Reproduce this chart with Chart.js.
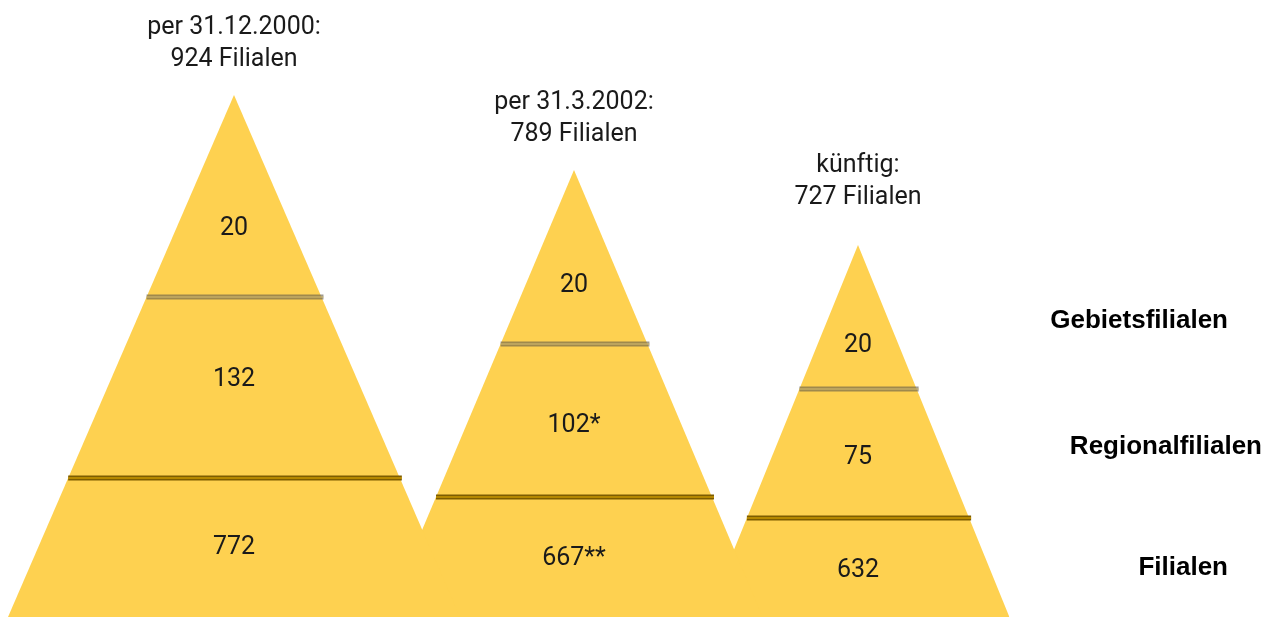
<!DOCTYPE html>
<html>
<head>
<meta charset="utf-8">
<title>Filialnetz</title>
<script src="https://cdn.jsdelivr.net/npm/chart.js@4.4.1/dist/chart.umd.min.js"></script>
<style>
    html, body { margin: 0; padding: 0; background: #fff; }
    #wrap { width: 1266px; height: 617px; position: relative; }
</style>
</head>
<body>
<div id="wrap"><canvas id="mountainChart"></canvas></div>
<script>
// Chart data
const periods = ['per 31.12.2000:', 'per 31.3.2002:', 'künftig:'];
const totals = [924, 789, 727];
const levels = ['Gebietsfilialen', 'Regionalfilialen', 'Filialen'];
const gebietsfilialen = [20, 20, 20];
const regionalfilialen = [132, 102, 75];
const filialen = [772, 667, 632];
const regionalNotes = ['', '*', ''];
const filialenNotes = ['', '**', ''];

// Layout (pixels from top of the 1266x617 canvas)
const W = 1266, H = 617;
const peakX = [234, 574, 858];
const peakTop = [95, 170, 245];
const flank = [0.433, 0.422, 0.407];          // half width per pixel of depth
const cutTop = [[297, 478], [344, 497], [389, 518]];
const valueTop = [[229, 380, 548], [286, 426, 559], [346, 458, 571]];
const titleTop = [28, 103, 166];
const levelY = [321, 447, 568];
const levelRight = [1228, 1262, 1228];

const yellow = '#fed150';
const textFont = '"Roboto", "Liberation Sans", sans-serif';

function h(top) { return H - top; }

function mountainDatasets() {
    const sets = [];
    peakX.forEach(function(px, i) {
        const depth = H - peakTop[i];
        sets.push({
            type: 'line',
            order: 3,
            data: [
                { x: px - flank[i] * depth, y: 0 },
                { x: px, y: h(peakTop[i]) },
                { x: px + flank[i] * depth, y: 0 }
            ],
            backgroundColor: yellow,
            borderColor: yellow,
            borderWidth: 0,
            pointRadius: 0,
            fill: 'origin',
            tension: 0
        });
    });
    return sets;
}

function cutDatasets() {
    const sets = [];
    peakX.forEach(function(px, i) {
        cutTop[i].forEach(function(top, k) {
            const half = flank[i] * (top - peakTop[i]) + 1;
            const pts = [{ x: px - half + 1, y: h(top) }, { x: px + half + 1, y: h(top) }];
            const outer = k === 0 ? 'rgba(100,92,75,0.62)' : '#7d5c00';
            const inner = k === 0 ? '#d9c070' : '#f0b400';
            sets.push({ type: 'line', order: 2, data: pts, borderColor: outer, borderWidth: 5, pointRadius: 0, fill: false });
            sets.push({ type: 'line', order: 1, data: pts, borderColor: inner, borderWidth: 1.2, pointRadius: 0, fill: false });
        });
    });
    return sets;
}

const labelPlugin = {
    id: 'mountainLabels',
    afterDatasetsDraw(chart) {
        const ctx = chart.ctx;
        const xs = chart.scales.x, ys = chart.scales.y;
        ctx.save();
        ctx.textAlign = 'center';
        ctx.textBaseline = 'middle';
        ctx.fillStyle = '#1a1a1a';
        ctx.font = '25px ' + textFont;

        peakX.forEach(function(px, i) {
            const x = xs.getPixelForValue(px);
            // titles above each peak
            const t = ys.getPixelForValue(h(titleTop[i]));
            ctx.fillText(periods[i], x, t);
            ctx.fillText(totals[i] + ' Filialen', x, t + 32);

            // values inside the bands
            const v = valueTop[i];
            ctx.fillText(String(gebietsfilialen[i]), x, ys.getPixelForValue(h(v[0])));
            ctx.fillText(regionalfilialen[i] + regionalNotes[i], x, ys.getPixelForValue(h(v[1])));
            ctx.fillText(filialen[i] + filialenNotes[i], x, ys.getPixelForValue(h(v[2])));
        });

        ctx.textAlign = 'right';
        ctx.font = 'bold 26px "Liberation Sans", Arial, sans-serif';
        ctx.fillStyle = '#000';
        levels.forEach(function(name, k) {
            ctx.fillText(name, levelRight[k], ys.getPixelForValue(h(levelY[k])));
        });
        ctx.restore();
    }
};

document.addEventListener('DOMContentLoaded', function() {
    const ctx = document.getElementById('mountainChart').getContext('2d');
    new Chart(ctx, {
        type: 'scatter',
        data: { datasets: mountainDatasets().concat(cutDatasets()) },
        options: {
            responsive: true,
            maintainAspectRatio: false,
            animation: false,
            layout: { padding: 0 },
            plugins: {
                legend: { display: false },
                tooltip: { enabled: false },
                title: { display: false }
            },
            scales: {
                x: { type: 'linear', min: 0, max: W, display: false },
                y: { type: 'linear', min: 0, max: H, display: false }
            }
        },
        plugins: [labelPlugin]
    });
});
</script>
</body>
</html>
